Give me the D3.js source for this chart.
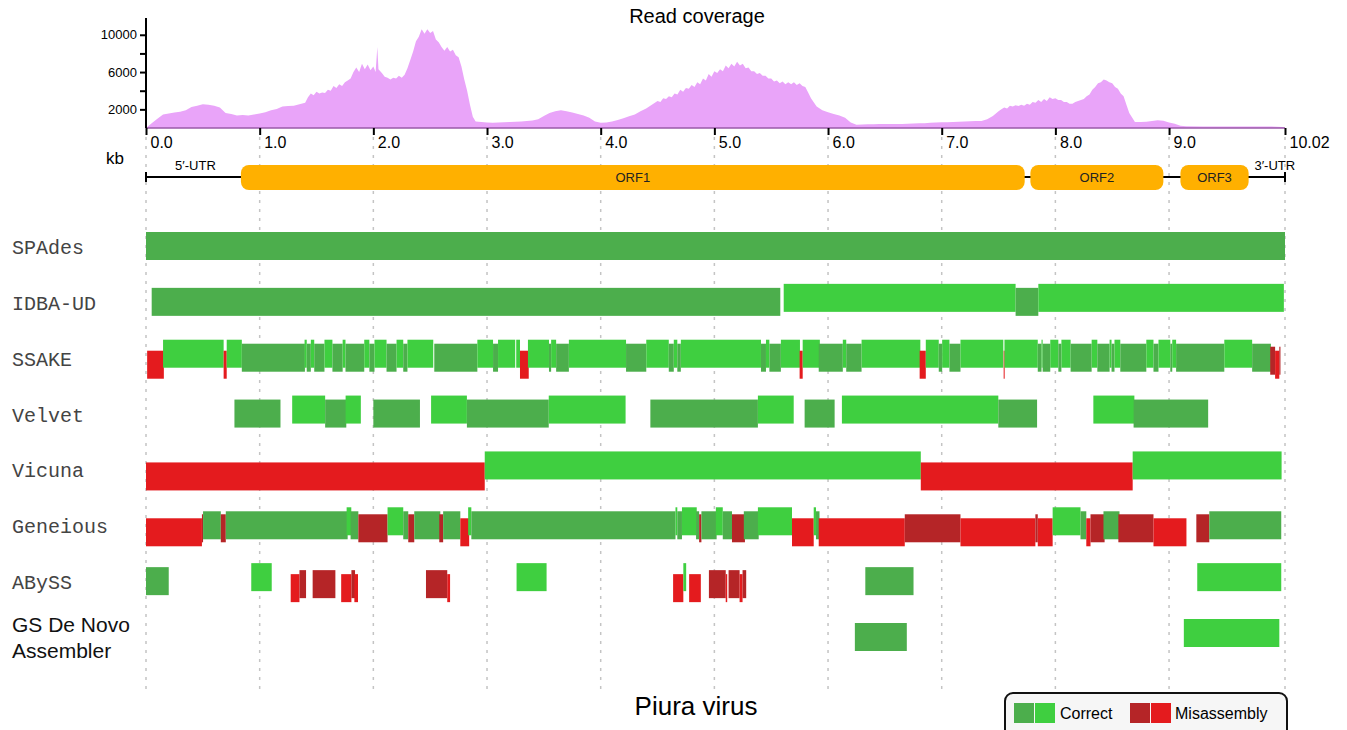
<!DOCTYPE html>
<html>
<head>
<meta charset="utf-8">
<script src="https://cdn.jsdelivr.net/npm/d3@7"></script>
<style>
  body { margin: 0; background: #fff; }
  text { font-family: "Liberation Sans", Arial, sans-serif; }
</style>
</head>
<body>
<svg id="chart" width="1347" height="730"></svg>
<script>
// read depth along the genome, [kb, depth]
var coverage = [
  [0,0],[0.05,500],[0.1,1000],[0.15,1450],[0.2,1550],[0.25,1650],[0.3,1750],[0.35,1900],[0.4,2250],[0.45,2400],
  [0.5,2550],[0.55,2500],[0.6,2400],[0.65,2200],[0.7,1600],[0.75,1500],[0.8,1350],[0.85,1400],[0.9,1350],[0.95,1450],
  [1.0,1550],[1.05,1700],[1.1,1900],[1.15,2050],[1.2,2300],[1.25,2350],[1.3,2400],[1.35,2550],
  [1.4,2700],[1.425,3300],[1.45,3700],[1.475,3500],[1.5,3900],[1.525,3700],[1.55,3800],[1.575,3750],[1.6,4100],[1.625,4000],
  [1.65,4500],[1.675,4300],[1.7,4700],[1.725,4500],[1.75,4900],[1.775,5100],[1.8,5300],[1.825,6000],[1.85,6500],[1.875,6000],
  [1.9,6900],[1.925,6300],[1.95,6800],[1.975,6200],[2.0,6600],[2.02,6000],[2.035,8700],[2.045,6300],[2.075,5900],[2.1,5500],
  [2.125,5400],[2.15,5200],[2.175,5400],[2.2,5300],[2.225,5600],[2.25,5400],[2.275,5700],[2.3,6400],[2.325,7300],[2.35,8200],
  [2.375,9300],[2.4,9800],[2.425,10600],[2.45,10100],[2.475,10600],[2.5,10200],[2.525,10400],[2.55,9500],[2.575,9200],[2.6,8700],
  [2.625,8300],[2.65,8700],[2.675,8200],[2.7,8400],[2.725,7800],[2.75,7600],[2.775,6600],[2.8,5200],[2.825,4000],[2.85,2500],
  [2.875,1200],[2.9,700],[2.95,650],[3.0,600],[3.05,560],[3.1,600],[3.15,620],[3.2,650],[3.25,680],[3.3,700],[3.35,750],
  [3.4,800],[3.45,950],[3.5,1300],[3.55,1600],[3.6,1800],[3.65,1900],[3.7,1800],[3.75,1650],[3.8,1500],[3.85,1350],
  [3.9,1100],[3.95,700],[4.0,550],[4.05,600],[4.1,700],[4.15,850],[4.2,1050],[4.25,1250],[4.3,1450],[4.35,1800],
  [4.4,2100],[4.45,2500],[4.5,2900],[4.525,2800],[4.55,3200],[4.575,3100],[4.6,3400],[4.625,3300],[4.65,3700],[4.675,3600],
  [4.7,4100],[4.725,3900],[4.75,4300],[4.775,4200],[4.8,4600],[4.825,4400],[4.85,4900],[4.875,4700],[4.9,5300],[4.925,5100],
  [4.95,5800],[4.975,5500],[5.0,6100],[5.025,5900],[5.05,6300],[5.075,6100],[5.1,6700],[5.125,6400],[5.15,6900],[5.175,6600],
  [5.2,7100],[5.225,6700],[5.25,6900],[5.275,6400],[5.3,6500],[5.325,6100],[5.35,6100],[5.375,5800],[5.4,5900],[5.425,5600],
  [5.45,5600],[5.475,5300],[5.5,5300],[5.525,5000],[5.55,5100],[5.575,4800],[5.6,5000],[5.625,4700],[5.65,4900],[5.675,4700],
  [5.7,4900],[5.725,4600],[5.75,4800],[5.775,4500],[5.8,4400],[5.825,3800],[5.85,3200],
  [5.9,2300],[5.95,1900],[6.0,1700],[6.05,1500],[6.1,1350],[6.15,1100],[6.2,600],[6.25,350],[6.3,380],[6.35,400],
  [6.4,410],[6.45,420],[6.5,420],[6.55,430],[6.6,440],[6.65,440],[6.7,460],[6.75,470],[6.8,500],[6.85,520],
  [6.9,560],[6.95,600],[7.0,610],[7.05,620],[7.1,650],[7.15,680],[7.2,700],[7.25,720],[7.3,740],[7.35,760],
  [7.4,950],[7.45,1300],[7.5,1800],[7.525,2000],[7.55,2200],[7.575,2100],[7.6,2400],[7.625,2300],[7.65,2450],[7.675,2350],
  [7.7,2500],[7.725,2400],[7.75,2600],[7.775,2500],[7.8,2800],[7.825,2700],[7.85,3000],[7.875,2800],[7.9,3100],[7.925,2900],
  [7.95,3300],[7.975,3100],[8.0,3200],[8.025,3000],[8.05,3000],[8.075,2800],[8.1,2800],[8.125,2600],[8.15,2600],[8.175,2800],
  [8.2,2900],[8.225,3000],[8.25,3100],[8.275,3400],[8.3,3600],[8.325,4100],[8.35,4400],[8.375,4800],[8.4,4900],[8.425,5200],
  [8.45,5100],[8.475,4900],[8.5,4800],[8.525,4400],[8.55,4200],[8.575,3700],[8.6,3400],[8.625,2500],[8.65,1600],
  [8.7,650],[8.75,650],[8.8,660],[8.85,750],[8.9,820],[8.95,780],[9.0,600],[9.05,450],[9.1,250],[9.15,180],
  [9.3,170],[9.5,170],[9.7,160],[9.9,150],[10.0,100],[10.02,0]
];
var depthTicks = [2000, 4000, 6000, 8000, 10000];
var depthLabels = [2000, 6000, 10000];
var kbTicks = [0, 1, 2, 3, 4, 5, 6, 7, 8, 9, 10.02];

var orfNames = ["ORF1", "ORF2", "ORF3"];
var orfStart = [0.835, 7.78, 9.1];
var orfEnd = [7.73, 8.95, 9.7];

// contigs per assembler: [start kb, end kb, kind]
// kind: G = correct (dark), g = correct (light), R = misassembly (dark), r = misassembly (light)
var spades = [[0, 10.02, "G"]];
var idba = [[0.05, 5.58, "G"], [5.61, 7.65, "g"], [7.65, 7.85, "G"], [7.85, 10.01, "g"]];
var ssake = [
  [0.01,0.157,"r"],[0.15,0.683,"g"],[0.683,0.71,"r"],[0.71,0.843,"g"],[0.843,1.398,"G"],[1.395,1.414,"g"],
  [1.414,1.45,"G"],[1.45,1.48,"g"],[1.48,1.57,"G"],[1.57,1.64,"g"],[1.64,1.73,"G"],[1.73,1.755,"g"],
  [1.755,1.92,"G"],[1.92,1.965,"g"],[1.965,2.01,"G"],[2.01,2.116,"g"],[2.116,2.204,"G"],[2.204,2.263,"g"],
  [2.263,2.30,"G"],[2.30,2.527,"g"],[2.536,2.915,"G"],[2.915,3.053,"g"],[3.053,3.097,"G"],[3.097,3.248,"g"],
  [3.257,3.29,"g"],[3.29,3.367,"r"],[3.36,3.545,"g"],[3.545,3.564,"G"],[3.564,3.608,"g"],[3.608,3.72,"G"],
  [3.72,4.223,"g"],[4.223,4.401,"G"],[4.401,4.599,"g"],[4.599,4.643,"G"],[4.643,4.674,"g"],[4.674,4.705,"G"],
  [4.705,5.41,"g"],[5.41,5.454,"G"],[5.454,5.484,"g"],[5.484,5.585,"G"],[5.585,5.753,"g"],[5.75,5.777,"r"],
  [5.777,5.928,"g"],[5.918,6.13,"G"],[6.13,6.16,"g"],[6.16,6.295,"G"],[6.295,6.812,"g"],[6.806,6.86,"r"],
  [6.86,6.974,"g"],[6.974,7.004,"G"],[7.004,7.068,"g"],[7.068,7.165,"G"],[7.165,7.542,"g"],[7.545,7.552,"r"],
  [7.552,7.845,"g"],[7.845,7.878,"G"],[7.878,7.888,"g"],[7.888,7.955,"G"],[7.955,8.026,"g"],[8.026,8.053,"G"],
  [8.053,8.134,"g"],[8.134,8.319,"G"],[8.319,8.369,"g"],[8.369,8.477,"G"],[8.477,8.494,"g"],[8.494,8.52,"G"],
  [8.52,8.571,"g"],[8.571,8.8,"G"],[8.8,8.863,"g"],[8.863,8.907,"G"],[8.907,9.011,"g"],[9.011,9.028,"G"],
  [9.028,9.062,"g"],[9.062,9.486,"G"],[9.486,9.731,"g"],[9.731,9.896,"G"],[9.89,9.933,"R"],[9.933,9.97,"r"],
  [9.97,9.98,"R"]
];
var velvet = [
  [0.778,1.183,"G"],[1.286,1.576,"g"],[1.576,1.762,"G"],[1.756,1.89,"g"],[2.0,2.41,"G"],[2.508,2.823,"g"],
  [2.823,3.543,"G"],[3.543,4.219,"g"],[4.437,5.383,"G"],[5.383,5.698,"g"],[5.794,6.058,"G"],[6.122,7.498,"g"],
  [7.498,7.839,"G"],[8.334,8.695,"g"],[8.688,9.344,"G"]
];
var vicuna = [[0, 2.98, "r"], [2.98, 6.816, "g"], [6.816, 8.68, "r"], [8.68, 9.99, "g"]];
var geneious = [
  [0,0.492,"r"],[0.492,0.502,"R"],[0.502,0.658,"G"],[0.658,0.702,"R"],[0.702,1.774,"G"],[1.765,1.806,"g"],
  [1.8,1.868,"G"],[1.868,2.125,"R"],[2.125,2.263,"g"],[2.263,2.307,"G"],[2.307,2.36,"R"],[2.36,2.589,"G"],
  [2.58,2.614,"R"],[2.614,2.765,"G"],[2.765,2.843,"r"],[2.834,2.862,"g"],[2.862,4.658,"G"],[4.658,4.674,"g"],
  [4.674,4.715,"G"],[4.715,4.845,"g"],[4.839,4.866,"G"],[4.866,4.886,"R"],[4.886,5.02,"G"],[5.013,5.074,"g"],
  [5.074,5.155,"G"],[5.155,5.269,"R"],[5.259,5.39,"G"],[5.383,5.683,"g"],[5.683,5.874,"r"],[5.874,5.894,"g"],
  [5.894,5.925,"G"],[5.918,6.675,"r"],[6.675,7.165,"R"],[7.165,7.824,"r"],[7.824,7.845,"R"],[7.845,7.976,"r"],
  [7.976,8.221,"g"],[8.221,8.272,"G"],[8.272,8.309,"r"],[8.309,8.433,"R"],[8.423,8.564,"G"],[8.554,8.863,"R"],
  [8.863,9.153,"r"],[9.24,9.354,"R"],[9.354,9.987,"G"]
];
var abyss = [
  [0,0.2,"G"],[0.926,1.106,"g"],[1.273,1.35,"r"],[1.35,1.408,"R"],[1.466,1.666,"R"],[1.717,1.807,"r"],
  [1.807,1.839,"R"],[1.833,1.865,"r"],[2.463,2.65,"R"],[2.65,2.675,"r"],[3.26,3.524,"g"],[4.637,4.727,"r"],
  [4.727,4.752,"g"],[4.778,4.881,"r"],[4.952,5.1,"R"],[5.1,5.113,"r"],[5.125,5.222,"R"],[5.222,5.248,"r"],
  [5.248,5.28,"R"],[6.328,6.752,"G"],[9.248,9.987,"g"]
];
var gsDeNovo = [[6.236, 6.693, "G"], [9.13, 9.97, "g"]];

var tracks = [
  ["SPAdes", spades], ["IDBA-UD", idba], ["SSAKE", ssake], ["Velvet", velvet],
  ["Vicuna", vicuna], ["Geneious", geneious], ["ABySS", abyss], ["GS De Novo Assembler", gsDeNovo]
];

var kindColor = { G: "#4cae4c", g: "#3fcf40", R: "#b52527", r: "#e41b1e" };
var kindShift = { G: 0, g: -4, R: 3, r: 7 };
var barH = 28;

var svg = d3.select("#chart");

var x = d3.scaleLinear().domain([0, 10.02]).range([146, 1285]);
var y = d3.scaleLinear().domain([0, 11800]).range([128, 18]);
var row = d3.scalePoint().domain(tracks.map(function(t){ return t[0]; })).range([246, 637]);

// dotted guides
svg.append("g").selectAll("line")
  .data(kbTicks)
  .enter().append("line")
    .attr("x1", function(d){ return x(d); })
    .attr("x2", function(d){ return x(d); })
    .attr("y1", 137)
    .attr("y2", 690)
    .style("stroke", "#c4c4c4")
    .style("stroke-width", 1.5)
    .style("stroke-dasharray", "3,6");

// coverage area
svg.append("path")
  .datum(coverage)
  .attr("d", d3.area()
    .x(function(d){ return x(d[0]); })
    .y0(y(0))
    .y1(function(d){ return y(d[1]); }))
  .style("fill", "#e9a4f9");

svg.append("line")
  .attr("x1", x(0)).attr("x2", x(10.02))
  .attr("y1", y(0)).attr("y2", y(0))
  .style("stroke", "#9a5aa8").style("stroke-width", 1.5);

svg.append("text")
  .attr("x", 697).attr("y", 23)
  .attr("text-anchor", "middle")
  .style("font-size", "20px")
  .text("Read coverage");

// depth axis
var yAxis = svg.append("g")
  .attr("transform", "translate(" + x(0) + ",0)")
  .call(d3.axisLeft(y).tickValues(depthTicks).tickSize(6)
    .tickFormat(function(d){ return depthLabels.indexOf(d) >= 0 ? d : ""; }));
yAxis.select(".domain").attr("d", "M0," + y(11800) + "V" + y(0)).style("stroke-width", 2);
yAxis.selectAll(".tick line").style("stroke-width", 2);
yAxis.selectAll(".tick text").style("font-size", "13px").style("font-family", "Liberation Sans, Arial, sans-serif").attr("x", -9);

// kb axis
var xAxis = svg.append("g")
  .attr("transform", "translate(0," + y(0) + ")")
  .call(d3.axisBottom(x).tickValues(kbTicks).tickSize(7)
    .tickFormat(function(d){ return d === 10.02 ? "10.02" : d3.format(".1f")(d); }));
xAxis.select(".domain").remove();
xAxis.selectAll(".tick line").style("stroke-width", 2);
xAxis.selectAll(".tick text")
  .attr("text-anchor", "start")
  .attr("x", 4).attr("y", 20).attr("dy", 0)
  .style("font-size", "16px")
  .style("font-family", "Liberation Sans, Arial, sans-serif");

svg.append("text")
  .attr("x", 106).attr("y", 164)
  .style("font-size", "17px")
  .text("kb");

// genome map
var gy = 177;
svg.append("line")
  .attr("x1", x(0)).attr("x2", x(10.02)).attr("y1", gy).attr("y2", gy)
  .style("stroke", "#000").style("stroke-width", 2);
svg.selectAll(".cap")
  .data([0, 10.02])
  .enter().append("line")
    .attr("x1", function(d){ return x(d); }).attr("x2", function(d){ return x(d); })
    .attr("y1", gy - 5).attr("y2", gy + 5)
    .style("stroke", "#000").style("stroke-width", 2);

svg.append("text").attr("x", x(0.435)).attr("y", 170).attr("text-anchor", "middle")
  .style("font-size", "13px").text("5\u2032-UTR");
svg.append("text").attr("x", x(9.93)).attr("y", 170).attr("text-anchor", "middle")
  .style("font-size", "13px").text("3\u2032-UTR");

var orf = svg.append("g").selectAll("g")
  .data(orfNames)
  .enter().append("g");
orf.append("rect")
  .attr("x", function(d, i){ return x(orfStart[i]); })
  .attr("width", function(d, i){ return x(orfEnd[i]) - x(orfStart[i]); })
  .attr("y", 165).attr("height", 25)
  .attr("rx", 8)
  .style("fill", "#ffb000");
orf.append("text")
  .attr("x", function(d, i){ return (x(orfStart[i]) + x(orfEnd[i])) / 2; })
  .attr("y", 182)
  .attr("text-anchor", "middle")
  .style("font-size", "13px")
  .style("fill", "#222")
  .text(function(d){ return d; });

// assembler tracks
tracks.forEach(function(t){
  var cy = row(t[0]);
  svg.append("g").selectAll("rect")
    .data(t[1])
    .enter().append("rect")
      .attr("x", function(d){ return x(d[0]); })
      .attr("width", function(d){ return Math.max(1, x(d[1]) - x(d[0])); })
      .attr("y", function(d){ return cy - barH / 2 + kindShift[d[2]]; })
      .attr("height", barH)
      .style("fill", function(d){ return kindColor[d[2]]; });

  if (t[0] === "GS De Novo Assembler") {
    var lab = svg.append("text").attr("x", 12).attr("y", cy - 5)
      .style("font-size", "21px").style("fill", "#111");
    lab.append("tspan").attr("x", 12).text("GS De Novo");
    lab.append("tspan").attr("x", 12).attr("dy", 26).text("Assembler");
  } else {
    svg.append("text")
      .attr("x", 12).attr("y", cy + 8)
      .style("font-family", "'Liberation Mono', 'Courier New', monospace")
      .style("font-size", "20px")
      .style("fill", "#444")
      .text(t[0]);
  }
});

svg.append("text")
  .attr("x", 696).attr("y", 715)
  .attr("text-anchor", "middle")
  .style("font-size", "26px")
  .text("Piura virus");

// legend
var leg = svg.append("g");
leg.append("rect")
  .attr("x", 1005).attr("y", 693).attr("width", 282).attr("height", 45)
  .attr("rx", 8)
  .style("fill", "#f6f6f6").style("stroke", "#111").style("stroke-width", 2);
var legItems = [["G", "g", "Correct", 1014, 1060], ["R", "r", "Misassembly", 1130, 1175]];
legItems.forEach(function(it){
  leg.append("rect").attr("x", it[3]).attr("y", 703).attr("width", 20).attr("height", 20).style("fill", kindColor[it[0]]);
  leg.append("rect").attr("x", it[3] + 21).attr("y", 703).attr("width", 20).attr("height", 20).style("fill", kindColor[it[1]]);
  leg.append("text").attr("x", it[4]).attr("y", 719).style("font-size", "16px").text(it[2]);
});
</script>
</body>
</html>
